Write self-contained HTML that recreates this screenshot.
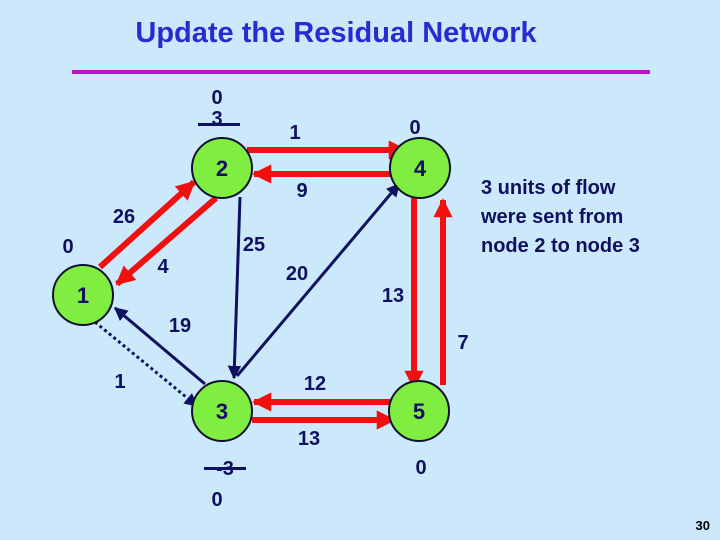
<!DOCTYPE html>
<html><head><meta charset="utf-8"><style>
body{margin:0;width:720px;height:540px;background:#cce9fb;overflow:hidden}
svg{display:block}
text{font-family:"Liberation Sans",sans-serif;font-weight:bold;fill:#101060}
</style></head><body>
<svg width="720" height="540" viewBox="0 0 720 540">
<defs>
<marker id="r" viewBox="0 0 10 10" refX="9" refY="5" markerWidth="3.2" markerHeight="3.2" orient="auto"><path d="M0,0L10,5L0,10z" fill="#f01010"/></marker>
<marker id="b" viewBox="0 0 10 10" refX="9" refY="5" markerWidth="4.5" markerHeight="4.5" orient="auto"><path d="M0,0L10,5L0,10z" fill="#101060"/></marker>
</defs>
<text x="336" y="42" font-size="29" text-anchor="middle" style="fill:#2a2ad0">Update the Residual Network</text>
<rect x="72" y="70" width="578" height="4" fill="#c010d0"/>
<g stroke="#f01010" stroke-width="6" fill="none">
<line x1="247" y1="150" x2="406" y2="150" marker-end="url(#r)"/>
<line x1="390" y1="174" x2="254" y2="174" marker-end="url(#r)"/>
<line x1="100" y1="267" x2="194" y2="182" marker-end="url(#r)"/>
<line x1="216" y1="198" x2="117" y2="284" marker-end="url(#r)"/>
<line x1="396" y1="402" x2="254" y2="402" marker-end="url(#r)"/>
<line x1="252" y1="420" x2="394" y2="420" marker-end="url(#r)"/>
<line x1="414" y1="198" x2="414" y2="388" marker-end="url(#r)"/>
<line x1="443" y1="385" x2="443" y2="200" marker-end="url(#r)"/>
</g>
<g stroke="#101060" stroke-width="3" fill="none">
<line x1="240" y1="197" x2="234" y2="378" marker-end="url(#b)"/>
<line x1="237" y1="376" x2="399" y2="184" marker-end="url(#b)"/>
<line x1="205" y1="384" x2="115" y2="308" marker-end="url(#b)"/>
<line x1="95" y1="322" x2="197" y2="406" stroke-dasharray="3,3" marker-end="url(#b)"/>
</g>
<g fill="#80ee40" stroke="#101030" stroke-width="2">
<circle cx="222" cy="168" r="30"/><circle cx="420" cy="168" r="30"/>
<circle cx="83" cy="295" r="30"/><circle cx="222" cy="411" r="30"/><circle cx="419" cy="411" r="30"/>
</g>
<g font-size="22" text-anchor="middle">
<text x="222" y="176">2</text><text x="420" y="176">4</text><text x="83" y="303">1</text><text x="222" y="419">3</text><text x="419" y="419">5</text>
</g>
<g font-size="20" text-anchor="middle">
<text x="217" y="104">0</text><text x="217" y="125">3</text>
<text x="295" y="139">1</text><text x="415" y="134">0</text>
<text x="302" y="197">9</text><text x="124" y="223">26</text><text x="68" y="253">0</text>
<text x="163" y="273">4</text><text x="254" y="251">25</text><text x="297" y="280">20</text>
<text x="393" y="302">13</text><text x="180" y="332">19</text><text x="463" y="349">7</text>
<text x="120" y="388">1</text><text x="315" y="390">12</text><text x="309" y="445">13</text>
<text x="225" y="475">-3</text><text x="217" y="506">0</text><text x="421" y="474">0</text>
</g>
<rect x="198" y="123" width="42" height="3" fill="#101060"/>
<rect x="204" y="467" width="42" height="3" fill="#101060"/>
<g font-size="20">
<text x="481" y="194">3 units of flow</text>
<text x="481" y="223">were sent from</text>
<text x="481" y="252">node 2 to node 3</text>
</g>
<text x="710" y="530" font-size="13" text-anchor="end" style="fill:#000">30</text>
</svg>
</body></html>
